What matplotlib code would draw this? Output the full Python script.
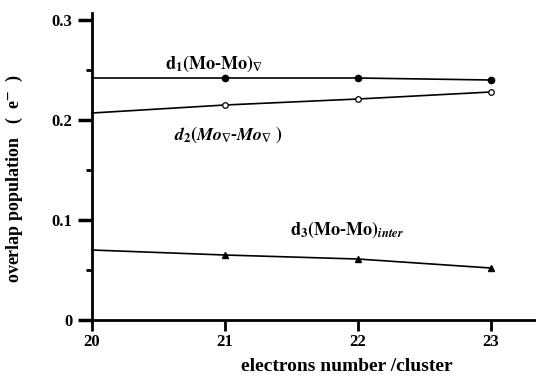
import matplotlib.pyplot as plt
from matplotlib.ticker import MultipleLocator

# data
electrons = [20, 21, 22, 23]
d1 = [0.242, 0.242, 0.242, 0.240]
d2 = [0.207, 0.215, 0.221, 0.228]
d3 = [0.070, 0.065, 0.061, 0.052]

plt.rcParams['font.family'] = ['Liberation Serif', 'DejaVu Serif']
plt.rcParams['mathtext.fontset'] = 'stix'
plt.rcParams['font.weight'] = 'bold'

fig = plt.figure(figsize=(5.36, 3.78), dpi=100)
ax = fig.add_axes([0.1716, 0.1534, 0.8284, 0.8122])

# markers at x=20 are hidden by the axis in the original
ax.plot(electrons, d1, '-', color='black', lw=1.2, marker='o', ms=4.5,
        mfc='black', markevery=[1, 2, 3], clip_on=False)
ax.plot(electrons, d2, '-', color='black', lw=1.2, marker='o', ms=4,
        mfc='white', mew=0.9, markevery=[1, 2, 3], clip_on=False)
ax.plot(electrons, d3, '-', color='black', lw=1.2, marker='^', ms=4,
        mfc='black', markevery=[1, 2, 3], clip_on=False)

ax.set_xlim(20, 23.34)
ax.set_ylim(0, 0.307)
ax.set_xticks(electrons)
ax.set_yticks([0, 0.1, 0.2, 0.3])
ax.set_yticklabels(['0', '0.1', '0.2', '0.3'])
ax.yaxis.set_minor_locator(MultipleLocator(0.05))

for s in ['top', 'right']:
    ax.spines[s].set_visible(False)
for s in ['left', 'bottom']:
    ax.spines[s].set_linewidth(2)

ax.tick_params(axis='y', which='major', direction='out', length=10, width=2.5,
               labelsize=12, pad=4)
ax.tick_params(axis='y', which='minor', direction='out', length=4, width=2)
ax.tick_params(axis='x', direction='out', length=8, width=2, labelsize=12, pad=2)
for lab in ax.get_xticklabels() + ax.get_yticklabels():
    lab.set_fontweight('bold')

ax.text(20.55, 0.251, r'$\mathbf{d_1(Mo}$-$\mathbf{Mo)_{\nabla}}$', fontsize=13)
ax.text(20.62, 0.180, r'$\mathit{d_2(Mo_{\nabla}}$-$\mathit{Mo_{\nabla}\ )}$', fontsize=13)
ax.text(21.49, 0.085, r'$\mathbf{d_3(Mo}$-$\mathbf{Mo)}_{\mathit{inter}}$', fontsize=13)

ax.set_xlabel('electrons number /cluster', fontsize=14, fontweight='bold')
ax.set_ylabel(r'overlap population   (  e$^{-}$  )', fontsize=13, fontweight='bold')
ax.xaxis.set_label_coords(0.574, -0.125)
ax.yaxis.set_label_coords(-0.15, 0.46)

fig.savefig('out.png', dpi=100)
